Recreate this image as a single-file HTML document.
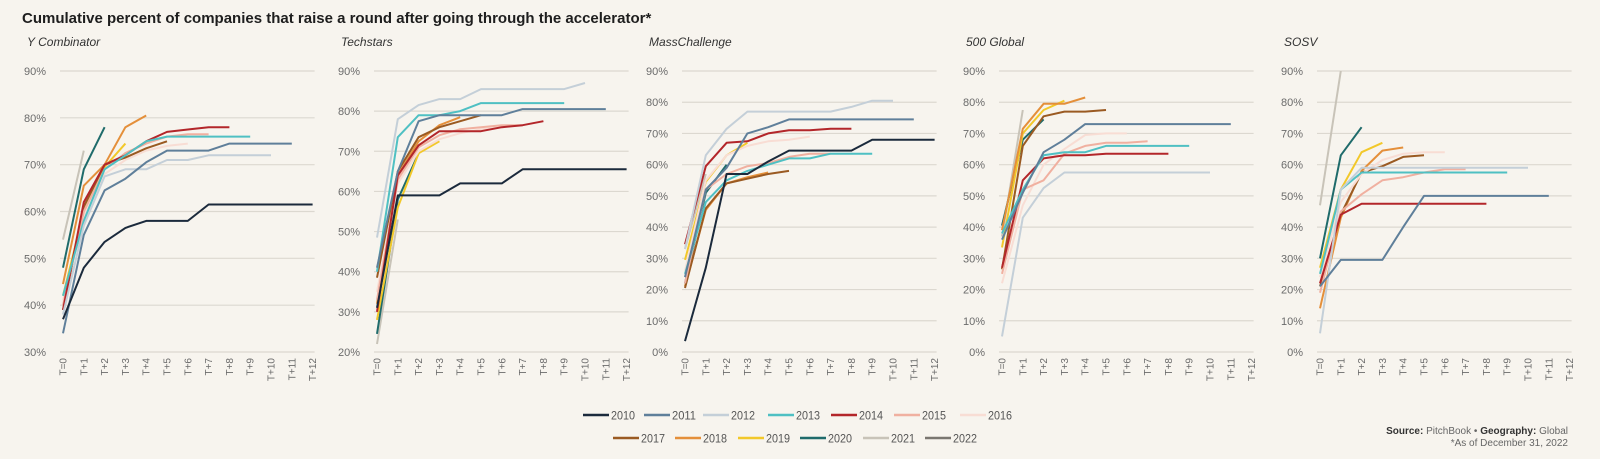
<!DOCTYPE html>
<html><head><meta charset="utf-8">
<style>
html,body{margin:0;padding:0;background:#f7f4ee;}
body{width:1600px;height:459px;overflow:hidden;font-family:"Liberation Sans",sans-serif;}
svg{display:block}
</style></head>
<body>
<svg id="chart" width="1600" height="459" viewBox="0 0 1600 459">
<text x="22" y="23" font-size="15" font-weight="bold" fill="#1e1e1e">Cumulative percent of companies that raise a round after going through the accelerator*</text>
<g id="panels"></g>
<g id="legend"></g>
<text x="1568" y="434" font-size="10" fill="#666" text-anchor="end"><tspan font-weight="bold" fill="#333">Source:</tspan> PitchBook  •  <tspan font-weight="bold" fill="#333">Geography:</tspan> Global</text>
<text x="1568" y="446" font-size="10" fill="#666" text-anchor="end">*As of December 31, 2022</text>
</svg>
<script>
const years = ["2010","2011","2012","2013","2014","2015","2016","2017","2018","2019","2020","2021","2022"];
const colors = ["#1b2a3c","#5f7f9a","#c4cfd8","#4fc0c3","#b3262a","#f0b0a0","#f8ddd4","#9a5a22","#e48f3a","#f2c82a","#1f6b6b","#c8c3b8","#7a7670"];
const xTicks = ["T=0","T+1","T+2","T+3","T+4","T+5","T+6","T+7","T+8","T+9","T+10","T+11","T+12"];
const panelNames = ["Y Combinator","Techstars","MassChallenge","500 Global","SOSV"];
const panelMins = [30,20,0,0,0];
const ycData = [
 [37,48,53.5,56.5,58,58,58,61.5,61.5,61.5,61.5,61.5,61.5],
 [34,55,64.5,67,70.5,73,73,73,74.5,74.5,74.5,74.5],
 [38,57,67.5,69,69,71,71,72,72,72,72],
 [42,58,69,72,75,76,76,76,76,76],
 [39,62,70,72,75,77,77.5,78,78],
 [40,60,69,72.5,74.5,76,76.5,76.5],
 [41,59,68,71,73,74,74.5],
 [39,61,70,71.5,73.5,75],
 [44.5,65.5,70,78,80.5],
 [42,60,69.5,74.5],
 [48,69,78],
 [54,73],
 []
];
const techstarsData = [
 [31,59,59,59,62,62,62,65.5,65.5,65.5,65.5,65.5,65.5],
 [41,65,77.5,79,79,79,79,80.5,80.5,80.5,80.5,80.5],
 [48.5,78,81.5,83,83,85.5,85.5,85.5,85.5,85.5,87],
 [40,73.5,79,79,80,82,82,82,82,82],
 [30,64,71.5,75,75,75,76,76.5,77.5],
 [33,63,71,74,75.5,76,76.5,76.5],
 [35,62,70,73,74.5,75.5,76],
 [38.5,65,73.5,76,77.5,79],
 [32,64,72.5,76.5,78.5],
 [28,56,69.5,72.5],
 [24.5,58,69.5],
 [22,53],
 []
];
const massData = [
 [3.5,27,57,57,61,64.5,64.5,64.5,64.5,68,68,68,68],
 [24,52,59,70,72,74.5,74.5,74.5,74.5,74.5,74.5,74.5],
 [33,63,71.5,77,77,77,77,77,78.5,80.5,80.5],
 [25,48,55,58,60,62,62,63.5,63.5,63.5],
 [34.5,59.5,67,67.5,70,71,71,71.5,71.5],
 [22,52,57,59.5,60.5,62.5,63.5,63.5],
 [26,55,63,66,67.5,68,69],
 [20.5,46,54,55.5,57,58],
 [21,45.5,54,56,57.5],
 [29.5,54.5,63,67],
 [22,51,60],
 [33,57],
 []
];
const globalData = [
 [],
 [36,51,64,68,73,73,73,73,73,73,73,73],
 [5,43,52.5,57.5,57.5,57.5,57.5,57.5,57.5,57.5,57.5],
 [38,52,63,64,64,66,66,66,66,66],
 [27,55,62,63,63,63.5,63.5,63.5,63.5],
 [25,52,55,63.5,66,67,67,67.5],
 [22,47,60,65,69.5,70,70],
 [26.5,66,75.5,77,77,77.5],
 [39,71.5,79.5,79.5,81.5],
 [33.5,70,77.5,80.5],
 [40.5,68,74.5],
 [37,77.5],
 []
];
const sosvData = [
 [],
 [21,29.5,29.5,29.5,40,50,50,50,50,50,50,50],
 [6,52,59,59,59,59,59,59,59,59,59],
 [25,52,57.5,57.5,57.5,57.5,57.5,57.5,57.5,57.5],
 [22,44,47.5,47.5,47.5,47.5,47.5,47.5,47.5],
 [19,45,50.5,55,56,57.5,58.5,58.5],
 [24,48,57,61.5,63.5,64,64],
 [21,44,57.5,59.5,62.5,63],
 [14,43,58,64.5,65.5],
 [27,52,64,67],
 [30,63,72],
 [47,90],
 []
];
const allData = [ycData, techstarsData, massData, globalData, sosvData];

const NS = "http://www.w3.org/2000/svg";
const x0s = [63,377,685,1002,1320];
const stepX = 20.8, yTop = 71, yBot = 352, maxV = 90;
function mk(tag, attrs, parent){const e=document.createElementNS(NS,tag);for(const k in attrs)e.setAttribute(k,attrs[k]);parent.appendChild(e);return e;}
const panels = document.getElementById('panels');
panelNames.forEach((pname, p) => {
  const g = mk('g', {}, panels);
  
  
  const x0 = x0s[p], minV = panelMins[p];
  const xs = i => x0 + i * stepX;
  const ys = v => yBot - (v - minV) / (maxV - minV) * (yBot - yTop);
  const t = mk('text', {x: x0 - 36, y: 46, 'font-size': 12, 'font-style': 'italic', fill: '#333'}, g);
  t.textContent = pname;
  
  
  for (let v = minV; v <= maxV; v += 10) {
    const gl = mk('line', {x1: x0 - 3, x2: xs(12) + 2, y1: ys(v), y2: ys(v), stroke: '#dcd8d0', 'stroke-width': 1.2}, g);
    
    
    const lt = mk('text', {x: x0 - 17, y: ys(v) + 4, 'font-size': 11, fill: '#6b6b6b', 'text-anchor': 'end'}, g);
    lt.textContent = v + '%';
    
    
  }
  xTicks.forEach((lab, i) => {
    const xt = mk('text', {'font-size': 10, fill: '#6b6b6b', 'text-anchor': 'end', transform: `translate(${xs(i)+3.5},358) rotate(-90)`}, g);
    xt.textContent = lab;
    
    
  });
  const data = allData[p];
  for (let s = data.length - 1; s >= 0; s--) {
    const vals = data[s];
    if (!vals.length) continue;
    const pts = vals.map((v, i) => xs(i).toFixed(1) + ',' + ys(v).toFixed(1)).join(' ');
    const pl = mk('polyline', {points: pts, fill: 'none', stroke: colors[s], 'stroke-width': 2, 'stroke-linejoin': 'round'}, g);
    
    
  }
});
const legend = document.getElementById('legend');
const legendX = [583,644,703,768,831,894,960,613,675,738,800,863,925];
years.forEach((yr, i) => {
  const row = i < 7 ? 0 : 1;
  const y = row === 0 ? 415 : 438;
  const x = legendX[i];
  const item = mk('g', {}, legend);
  
  
  mk('line', {x1: x, x2: x + 26, y1: y, y2: y, stroke: colors[i], 'stroke-width': 2.5}, item);
  const tx = mk('text', {x: x + 28, y: y + 4.5, 'font-size': 12, fill: '#555', textLength: 24, lengthAdjust: 'spacingAndGlyphs'}, item);
  tx.textContent = yr;
});
</script>
</body></html>
